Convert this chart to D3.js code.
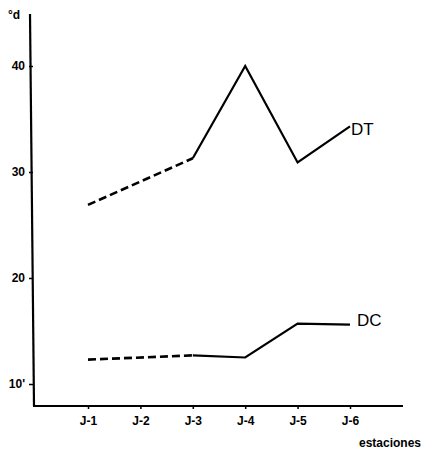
<!DOCTYPE html>
<html><head><meta charset="utf-8">
<script src="https://cdn.jsdelivr.net/npm/d3@7"></script>
<style>
body{margin:0;background:#fff;}
svg text{font-family:"Liberation Sans Narrow","Liberation Sans",Arial,sans-serif;fill:#000;}
</style></head>
<body><svg id="c" width="422" height="455"></svg>
<script>
const categories = ["J-1","J-2","J-3","J-4","J-5","J-6"];
const dtValues = [26.9, null, 31.3, 40.0, 30.9, 34.3];
const dcValues = [12.3, null, 12.7, 12.5, 15.7, 15.6];
const yTicks = [10, 20, 30, 40];
const seriesNames = ["DT", "DC"];
const yUnit = "°d";
const xTitle = "estaciones";

const svg = d3.select("#c");
const x = d3.scalePoint().domain(categories).range([88, 350]);
const y = d3.scaleLinear().domain([10, 40]).range([384, 66]);

// axes
const yAxis = d3.axisLeft(y).tickValues(yTicks).tickSize(4).tickPadding(4)
  .tickFormat(d => d === 10 ? "10'" : d);
const gy = svg.append("g").attr("transform", "translate(33,0)").call(yAxis);
gy.select(".domain").remove();
gy.append("line").attr("x1", -3).attr("x2", 1).attr("y1", 14).attr("y2", 406)
  .attr("stroke", "#000").attr("stroke-width", 2.2);
gy.selectAll(".tick line").attr("stroke-width", 1.5);
gy.selectAll(".tick text").attr("font-size", 12).attr("font-weight", "bold").attr("fill","#000");

const xAxis = d3.axisBottom(x).tickSize(3).tickPadding(7);
const gx = svg.append("g").attr("transform", "translate(0,406)").call(xAxis);
gx.select(".domain").remove();
gx.append("line").attr("x1", 33).attr("x2", 403).attr("y1", 0).attr("y2", 0)
  .attr("stroke", "#000").attr("stroke-width", 2.2);
gx.selectAll(".tick line").attr("stroke-width", 1.5);
gx.selectAll(".tick text").attr("font-size", 12).attr("font-weight", "bold").attr("fill","#000");

svg.append("text").attr("x", 8).attr("y", 19).attr("font-size", 12).attr("font-weight","bold").text(yUnit);
svg.append("text").attr("x", 421).attr("y", 447).attr("text-anchor","end").attr("font-size", 12).attr("font-weight","bold").text(xTitle);

function drawSeries(vals, name, lx, ly) {
  const pts = categories.map((c, i) => ({c, v: vals[i]}));
  const defined = pts.filter(p => p.v !== null);
  const line = d3.line().x(p => x(p.c)).y(p => y(p.v));
  // dashed part: from first point to first point after gap
  const firstSolidIdx = pts.findIndex((p, i) => i > 0 && p.v !== null && pts[i-1].v === null);
  const dashedPts = defined.filter(p => categories.indexOf(p.c) <= firstSolidIdx);
  const solidPts = defined.filter(p => categories.indexOf(p.c) >= firstSolidIdx);
  svg.append("path").attr("d", line(dashedPts)).attr("fill","none").attr("stroke","#000")
    .attr("stroke-width", 2.6).attr("stroke-dasharray", "8,4");
  svg.append("path").attr("d", line(solidPts)).attr("fill","none").attr("stroke","#000")
    .attr("stroke-width", 2.2).attr("stroke-linejoin","miter");
  svg.append("text").attr("x", lx).attr("y", ly).attr("font-size", 17).text(name);
}
drawSeries(dtValues, seriesNames[0], 351, 135);
drawSeries(dcValues, seriesNames[1], 357, 326);
</script></body></html>
